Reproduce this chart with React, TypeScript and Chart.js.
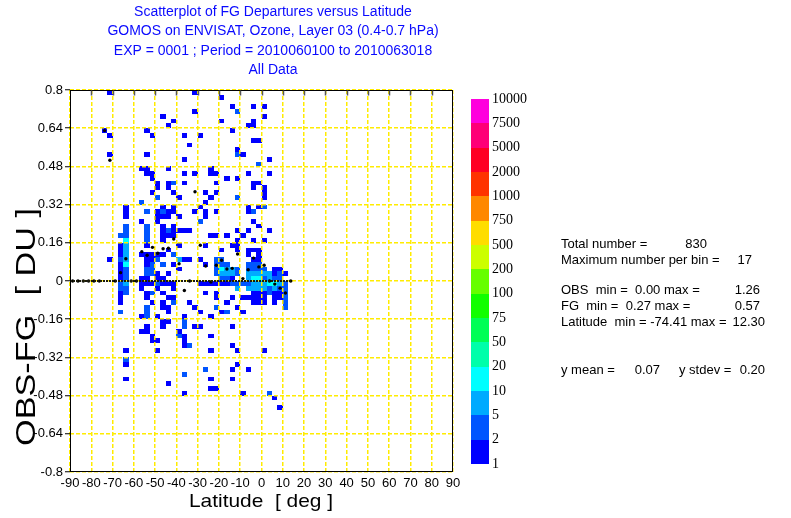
import React, { useEffect, useRef } from "react";
import { Chart, registerables } from "chart.js";

Chart.register(...registerables);

// ---------- text ----------
const titleLines = [
  "Scatterplot of FG Departures versus Latitude",
  "GOMOS on ENVISAT, Ozone, Layer 03 (0.4-0.7 hPa)",
  "EXP = 0001 ; Period = 2010060100 to 2010063018",
  "All Data",
];
const xTitle = "Latitude  [ deg ]";
const yTitle = "OBS-FG  [ DU ]";

// ---------- axes ----------
const xTicks = [-90, -80, -70, -60, -50, -40, -30, -20, -10, 0, 10, 20, 30, 40, 50, 60, 70, 80, 90];
const yTicks = [-0.8, -0.64, -0.48, -0.32, -0.16, 0, 0.16, 0.32, 0.48, 0.64, 0.8];

// ---------- colour scale ----------
const colorLevels = [1, 2, 5, 10, 20, 50, 75, 100, 200, 500, 750, 1000, 2000, 5000, 7500, 10000];
const levelColors = [
  "#0000ff", "#0055ff", "#00aaff", "#00ffff", "#00ffaa", "#00ff55", "#11ff00",
  "#66ff00", "#ccff00", "#ffdd00", "#ff8800", "#ff3300", "#ff0022", "#ff0077", "#ff00dd",
];

// ---------- 2D histogram (bin size 2.5 deg x 0.02 DU) ----------
const latBinWidth = 2.5;
const valBinHeight = 0.02;
const cellLatStart = [
  -75, -72.5, -67.5, -65, -57.5, -55, -52.5, -50, -47.5, -45, -42.5, -40, -37.5, -35, -32.5, -30,
  -27.5, -25, -22.5, -20, -17.5, -15, -12.5, -10, -7.5, -5, -2.5, 0, 2.5, 5, 7.5, 10,
];
const cellValStart = [
  [0.62],
  [0.78, 0.6, 0.52, 0.08],
  [0.18, 0.14, 0.12, 0.1, 0.08, 0.06, 0.04, 0.02, 0.0, -0.02, -0.04, -0.06, -0.08, -0.1, -0.14],
  [0.3, 0.28, 0.26, 0.22, 0.2, 0.18, 0.16, 0.14, 0.12, 0.1, 0.08, 0.06, 0.04, 0.02, 0.0, -0.02, -0.04, -0.06, -0.3, -0.34, -0.36, -0.42],
  [0.46, 0.32, 0.24, 0.1, 0.0, -0.02, -0.04, -0.16, -0.22],
  [0.62, 0.52, 0.46, 0.44, 0.28, 0.22, 0.2, 0.18, 0.16, 0.14, 0.1, 0.08, 0.06, 0.04, 0.02, 0.0, -0.02, -0.06, -0.08, -0.12, -0.14, -0.16, -0.2, -0.22],
  [0.6, 0.44, 0.42, 0.36, 0.1, 0.08, 0.06, 0.04, 0.02, -0.02, -0.06, -0.1, -0.24, -0.26],
  [0.4, 0.38, 0.34, 0.28, 0.26, 0.24, 0.1, 0.08, 0.02, 0.0, -0.02, -0.04, -0.16, -0.26, -0.3],
  [0.68, 0.3, 0.28, 0.26, 0.22, 0.2, 0.18, 0.16, 0.1, 0.06, 0.0, -0.02, -0.06, -0.1, -0.12, -0.18, -0.2],
  [0.64, 0.46, 0.4, 0.38, 0.28, 0.26, 0.2, 0.18, 0.12, 0.02, -0.02, -0.08, -0.12, -0.14, -0.18, -0.44],
  [0.66, 0.4, 0.36, 0.3, 0.28, 0.22, 0.2, 0.18, 0.1, 0.06, -0.02, -0.04, -0.08, -0.1],
  [0.34, 0.26, 0.2, 0.14, 0.08, 0.04, -0.22, -0.24],
  [0.6, 0.5, 0.44, 0.4, 0.2, 0.08, -0.16, -0.18, -0.2, -0.24, -0.26, -0.28, -0.4, -0.48],
  [0.56, 0.2, 0.08, -0.1, -0.28],
  [0.78, 0.7, 0.44, 0.28, -0.12, -0.2],
  [0.6, 0.3, 0.24, 0.08, -0.02, -0.14, -0.2],
  [0.36, 0.32, 0.28, 0.26, 0.14, 0.06, -0.02, -0.06, -0.38],
  [0.46, 0.44, 0.34, 0.18, -0.02, -0.16, -0.24, -0.3, -0.42, -0.46],
  [0.44, 0.4, 0.36, 0.28, 0.18, 0.08, 0.06, 0.04, 0.02, -0.02, -0.06, -0.08, -0.12, -0.46],
  [0.76, 0.66, 0.12, 0.08, 0.06, 0.04, 0.02, 0.0, -0.02, -0.14],
  [0.42, 0.18, 0.06, 0.04, 0.02, 0.0, -0.02, -0.1, -0.14],
  [0.72, 0.62, 0.14, 0.04, 0.02, 0.0, -0.02, -0.08, -0.2, -0.28, -0.38, -0.42],
  [0.7, 0.54, 0.52, 0.42, 0.34, 0.2, 0.16, 0.14, 0.12, 0.04, 0.02, -0.02, -0.04, -0.12, -0.3, -0.36],
  [0.52, 0.18, -0.02, -0.08, -0.14, -0.48],
  [0.64, 0.44, 0.3, 0.28, 0.2, 0.12, 0.1, 0.06, 0.04, 0.02, 0.0, -0.02, -0.04, -0.08, -0.38],
  [0.72, 0.66, 0.64, 0.58, 0.4, 0.38, 0.28, 0.24, 0.16, 0.12, 0.08, 0.06, 0.04, 0.02, 0.0, -0.02, -0.04, -0.06, -0.08, -0.1],
  [0.58, 0.48, 0.4, 0.3, 0.22, 0.12, 0.1, 0.08, 0.06, 0.04, 0.02, 0.0, -0.02, -0.04, -0.06, -0.08, -0.1],
  [0.72, 0.68, 0.38, 0.36, 0.34, 0.3, 0.16, 0.04, 0.02, 0.0, -0.02, -0.04, -0.06, -0.08, -0.1, -0.3],
  [0.5, 0.44, 0.2, 0.02, 0.0, -0.02, -0.04, -0.06, -0.48],
  [0.04, 0.02, 0.0, -0.02, -0.04, -0.06, -0.08, -0.1, -0.5],
  [0.04, 0.02, 0.0, -0.02, -0.04, -0.06, -0.08, -0.54],
  [0.02, -0.02, -0.04, -0.06, -0.08, -0.1, -0.12],
];
const cellCounts = [
  [1],
  [1, 1, 1, 1],
  [2, 1, 1, 1, 2, 1, 1, 1, 1, 2, 2, 1, 1, 1, 2],
  [1, 1, 1, 2, 2, 2, 10, 5, 5, 5, 5, 10, 2, 2, 2, 5, 2, 2, 1, 2, 1, 1],
  [1, 2, 1, 1, 1, 1, 1, 1, 1],
  [1, 1, 1, 1, 2, 2, 2, 2, 2, 1, 1, 1, 1, 2, 2, 1, 1, 1, 1, 2, 2, 2, 1, 1],
  [1, 1, 1, 1, 1, 1, 2, 2, 2, 1, 2, 1, 1, 1],
  [1, 1, 2, 1, 1, 1, 1, 2, 1, 1, 2, 1, 1, 1, 1],
  [1, 1, 2, 1, 1, 1, 1, 1, 1, 2, 1, 1, 1, 1, 1, 1, 1],
  [1, 1, 1, 1, 1, 1, 2, 1, 1, 1, 1, 1, 1, 1, 1, 1],
  [1, 2, 1, 1, 1, 1, 1, 1, 2, 1, 1, 1, 1, 2],
  [1, 1, 1, 1, 5, 1, 1, 2],
  [1, 1, 1, 1, 1, 1, 1, 2, 2, 1, 1, 1, 2, 1],
  [1, 1, 1, 1, 2],
  [1, 1, 1, 1, 1, 1],
  [1, 1, 2, 1, 1, 1, 1],
  [1, 1, 1, 1, 1, 1, 1, 1, 2],
  [1, 1, 1, 1, 1, 1, 1, 1, 1, 1],
  [1, 1, 1, 1, 1, 2, 2, 2, 2, 1, 1, 1, 2, 1],
  [1, 1, 1, 2, 2, 10, 5, 2, 1, 1],
  [1, 1, 2, 5, 5, 2, 1, 1, 2],
  [1, 1, 1, 5, 5, 1, 2, 1, 1, 1, 1, 1],
  [2, 1, 2, 1, 2, 1, 1, 1, 1, 2, 2, 2, 5, 1, 1, 1],
  [1, 1, 2, 1, 1, 1],
  [1, 1, 1, 1, 1, 1, 1, 2, 2, 5, 5, 2, 5, 1, 1],
  [1, 1, 1, 1, 1, 1, 2, 1, 1, 1, 1, 2, 2, 5, 10, 5, 5, 1, 1, 1],
  [1, 2, 1, 1, 1, 1, 1, 1, 2, 2, 5, 10, 5, 5, 1, 1, 1],
  [1, 1, 1, 1, 1, 2, 1, 2, 5, 2, 5, 5, 1, 1, 1, 1],
  [1, 1, 1, 5, 5, 10, 2, 2, 2],
  [1, 1, 2, 10, 5, 1, 1, 1, 1],
  [1, 2, 2, 5, 2, 1, 1, 1],
  [1, 2, 2, 2, 2, 2, 2],
];

// ---------- bin means (black dots) ----------
const meanLat = [
  -88.75, -86.25, -83.75, -81.25, -78.75, -76.25, -73.75, -71.25, -68.75, -66.25, -63.75,
  -61.25, -58.75, -56.25, -53.75, -51.25, -48.75, -46.25, -43.75, -41.25, -38.75, -36.25,
  -33.75, -31.25, -28.75, -26.25, -23.75, -21.25, -18.75, -16.25, -13.75, -11.25, -8.75,
  -6.25, -3.75, -1.25, 1.25, 3.75, 6.25, 8.75, 11.25, 13.75,
];
const meanVal = [
  0, 0, 0, 0, 0, 0, 0.63, 0.506, 0, 0.035, 0.093,
  0, 0, 0.123, 0.108, 0.141, 0.116, 0.135, 0.137, 0.176, 0.072, -0.04,
  0, 0.374, 0.15, 0.063, -0.004, 0.066, 0.087, 0.05, 0.053, 0.113, 0.01,
  0.047, 0.096, 0.059, 0.066, 0, -0.013, -0.03, -0.05, 0,
];
const zeroLineLat = [-90, 13.75];

// ---------- statistics text ----------
const statRows: { text: string; x: number; align: CanvasTextAlign; y: number }[] = [
  { text: "Total number =", x: 561, align: "left", y: 244 },
  { text: "830", x: 707, align: "right", y: 244 },
  { text: "Maximum number per bin =", x: 561, align: "left", y: 260 },
  { text: "17", x: 752, align: "right", y: 260 },
  { text: "OBS  min =  0.00 max =", x: 561, align: "left", y: 290 },
  { text: "1.26", x: 760, align: "right", y: 290 },
  { text: "FG  min =  0.27 max =", x: 561, align: "left", y: 306 },
  { text: "0.57", x: 760, align: "right", y: 306 },
  { text: "Latitude  min = -74.41 max =", x: 561, align: "left", y: 322 },
  { text: "12.30", x: 765, align: "right", y: 322 },
  { text: "y mean =", x: 561, align: "left", y: 370 },
  { text: "0.07", x: 660, align: "right", y: 370 },
  { text: "y stdev =", x: 679, align: "left", y: 370 },
  { text: "0.20", x: 765, align: "right", y: 370 },
];

const SANS = '"Liberation Sans", Arial, Helvetica, sans-serif';
const SERIF = '"Liberation Serif", "Times New Roman", serif';
const GRID = "rgb(255,236,0)";

function colorFor(count: number): string {
  let k = 0;
  for (let i = 0; i < colorLevels.length - 1; i++) if (count >= colorLevels[i]) k = i;
  return levelColors[k];
}

function fitText(ctx: CanvasRenderingContext2D, text: string, width: number) {
  const w = ctx.measureText(text).width;
  ctx.scale(width / w, 1);
  ctx.fillText(text, 0, 0);
}

const histPlugin = {
  id: "hist2d",
  beforeDraw(chart: any) {
    const { ctx, chartArea } = chart;
    const xs = chart.scales.x;
    const ys = chart.scales.y;
    ctx.save();
    ctx.beginPath();
    ctx.rect(chartArea.left, chartArea.top, chartArea.right - chartArea.left, chartArea.bottom - chartArea.top);
    ctx.clip();
    for (let c = 0; c < cellLatStart.length; c++) {
      const lat = cellLatStart[c];
      const xa = Math.round(xs.getPixelForValue(lat));
      const xb = Math.round(xs.getPixelForValue(lat + latBinWidth));
      cellValStart[c].forEach((v, k) => {
        const ya = Math.round(ys.getPixelForValue(v + valBinHeight));
        const yb = Math.round(ys.getPixelForValue(v));
        ctx.fillStyle = colorFor(cellCounts[c][k]);
        ctx.fillRect(xa, ya, xb - xa, yb - ya);
      });
    }
    ctx.restore();
  },
  afterDraw(chart: any) {
    const { ctx, chartArea } = chart;
    const xs = chart.scales.x;
    ctx.save();
    // frame
    const l = Math.round(chartArea.left) + 0.5;
    const t = Math.round(chartArea.top) + 0.5;
    const r = Math.round(chartArea.right) - 0.5;
    const b = Math.round(chartArea.bottom) - 0.5;
    ctx.strokeStyle = "#000";
    ctx.lineWidth = 1;
    ctx.setLineDash([]);
    ctx.strokeRect(l, t, r - l, b - t);
    // inward ticks on top border
    ctx.strokeStyle = "#555";
    ctx.lineWidth = 1.5;
    for (const v of xTicks) {
      if (v === xTicks[0] || v === xTicks[xTicks.length - 1]) continue;
      const px = Math.round(xs.getPixelForValue(v)) + 0.5;
      ctx.beginPath();
      ctx.moveTo(px, t);
      ctx.lineTo(px, t + 5);
      ctx.stroke();
    }
    // titles
    ctx.fillStyle = "rgb(10,10,255)";
    ctx.font = `14px ${SANS}`;
    ctx.textAlign = "center";
    ctx.textBaseline = "middle";
    titleLines.forEach((line, i) => ctx.fillText(line, 273, 12 + i * 19.5));
    // axis titles
    ctx.fillStyle = "#000";
    ctx.save();
    ctx.font = `19px ${SANS}`;
    ctx.translate(261, 502);
    fitText(ctx, xTitle, 144);
    ctx.restore();
    ctx.save();
    ctx.font = `27px ${SANS}`;
    ctx.translate(28, 327);
    ctx.rotate(-Math.PI / 2);
    fitText(ctx, yTitle, 238);
    ctx.restore();
    // colour bar
    const cbLeft = 471;
    const cbWidth = 18;
    const cbTop = 99;
    const cbBottom = 464;
    const segH = (cbBottom - cbTop) / levelColors.length;
    levelColors.forEach((col, i) => {
      ctx.fillStyle = col;
      const y0 = Math.round(cbBottom - (i + 1) * segH);
      const y1 = Math.round(cbBottom - i * segH);
      ctx.fillRect(cbLeft, y0, cbWidth, y1 - y0);
    });
    ctx.fillStyle = "#000";
    ctx.font = `14px ${SERIF}`;
    ctx.textAlign = "left";
    ctx.textBaseline = "middle";
    colorLevels.forEach((lv, i) => ctx.fillText(String(lv), cbLeft + 21, cbBottom - i * segH));
    // statistics
    ctx.font = `13px ${SANS}`;
    for (const row of statRows) {
      ctx.textAlign = row.align;
      ctx.fillText(row.text, row.x, row.y);
    }
    ctx.restore();
  },
};

export default function App() {
  const ref = useRef<HTMLCanvasElement>(null);
  useEffect(() => {
    const canvas = ref.current;
    if (!canvas) return;
    const chart = new Chart(canvas, {
      type: "scatter",
      data: {
        datasets: [
          {
            type: "line",
            data: zeroLineLat.map((x) => ({ x, y: 0 })),
            borderColor: "#1a1a08",
            borderWidth: 2,
            borderDash: [2, 1],
            pointRadius: 0,
            showLine: true,
          } as any,
          {
            type: "scatter",
            data: meanLat.map((x, i) => ({ x, y: meanVal[i] })),
            pointRadius: 1.7,
            pointBackgroundColor: "#000",
            pointBorderColor: "#000",
            pointBorderWidth: 0,
          } as any,
        ],
      },
      options: {
        responsive: false,
        animation: false,
        devicePixelRatio: 1,
        events: [],
        layout: { padding: { left: 0, top: 90, right: 338, bottom: 0 } },
        plugins: { legend: { display: false }, tooltip: { enabled: false }, title: { display: false } },
        scales: {
          x: {
            type: "linear",
            min: -90,
            max: 90,
            afterBuildTicks: (s: any) => {
              s.ticks = xTicks.map((value) => ({ value }));
            },
            afterFit: (s: any) => {
              s.height = 46;
            },
            grid: { color: GRID, lineWidth: 1.5, drawTicks: false },
            border: { display: false, dash: [4, 2] },
            ticks: {
              color: "#000",
              font: { family: SANS, size: 13 },
              padding: 4,
              maxRotation: 0,
              autoSkip: false,
              callback: (v: any) => String(v),
            },
          },
          y: {
            type: "linear",
            min: -0.8,
            max: 0.8,
            afterBuildTicks: (s: any) => {
              s.ticks = yTicks.map((value) => ({ value }));
            },
            afterFit: (s: any) => {
              s.width = 70;
            },
            grid: { color: GRID, lineWidth: 1.5, drawTicks: true, tickLength: 5, tickColor: "#000", tickWidth: 1 },
            border: { display: false, dash: [4, 2] },
            ticks: {
              color: "#000",
              font: { family: SANS, size: 13 },
              padding: 2,
              autoSkip: false,
              callback: (v: any) => String(v),
            },
          },
        },
      } as any,
      plugins: [histPlugin],
    });
    return () => chart.destroy();
  }, []);
  return (
    <div style={{ position: "absolute", left: 0, top: 0, width: 791, height: 518, background: "#fff" }}>
      <canvas ref={ref} width={791} height={518} style={{ display: "block", width: 791, height: 518 }} />
    </div>
  );
}
